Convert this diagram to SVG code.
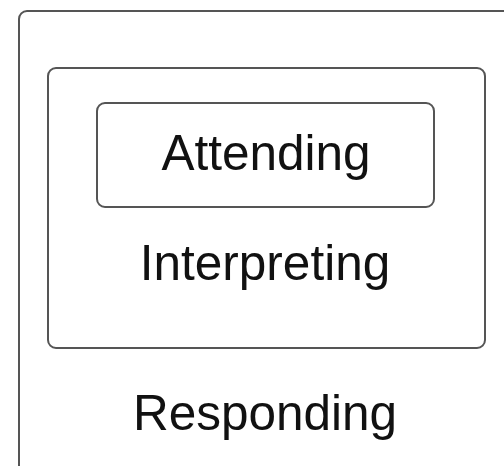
<svg xmlns="http://www.w3.org/2000/svg" width="504" height="466" viewBox="0 0 504 466">
<style>
.box{fill:none;stroke:#555;stroke-width:2}
.lbl{font-family:"Liberation Sans",Arial,sans-serif;font-size:49.5px;fill:#111;text-anchor:middle}
</style>
<rect width="504" height="466" fill="#fff"/>
<g id="responding">
<rect class="box" x="19" y="11" width="520" height="480" rx="8"/>
<text class="lbl" x="265" y="430">Responding</text>
</g>
<g id="interpreting">
<rect class="box" x="48" y="68" width="437" height="280" rx="8"/>
<text class="lbl" x="265" y="280">Interpreting</text>
</g>
<g id="attending">
<rect class="box" x="97" y="103" width="337" height="104" rx="8"/>
<text class="lbl" x="266" y="170">Attending</text>
</g>
<g id="connectors"/>
</svg>
